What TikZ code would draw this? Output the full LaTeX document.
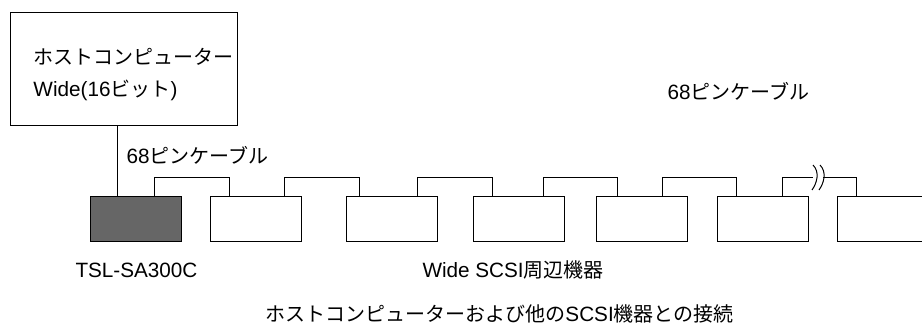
\documentclass[tikz,border=0pt]{standalone}
\usepackage{fontspec}
\setmainfont{Liberation Sans}
\newfontfamily\jp[Scale=0.966]{Noto Sans CJK JP}
\newcommand{\ja}[1]{{\jp #1}}
\usetikzlibrary{positioning, calc}
\tikzset{device/.style={draw=black, minimum width=91pt, minimum height=45pt, inner sep=0pt, anchor=north west},
  txt/.style={anchor=base west, inner sep=0pt, font=\fontsize{20.7pt}{24pt}\selectfont}}

\begin{document}
\begin{tikzpicture}[x=1pt, y=-1pt, line width=1pt]
                 \useasboundingbox (0,0) rectangle (922,327);
                 \node[draw, minimum width=227pt, minimum height=113pt, inner sep=0pt, anchor=north west] (host) at (10,12) {};
                 \node[txt] (hostname) at (33,64) {\ja{ホストコンピューター}};
                 \node[txt] (hostbus) at (33,96) {Wide(16\ja{ビット})};
                 \node[device, fill=black!60] (sa) at (90,196) {};
                 \node[device] (d1) at (210,196) {};
                 \node[device] (d2) at (346,196) {};
                 \node[device] (d3) at (473,196) {};
                 \node[device] (d4) at (596,196) {};
                 \node[device] (d5) at (717,196) {};
                 \node[device] (d6) at (837,196) {};
                 \draw([xshift=27pt]sa.north west)--([xshift=27pt]sa.north west |- host.south);
                 \foreach \a/\b/\o/\i in {sa/d1/64/19, d1/d2/74/13, d2/d3/71/19, d3/d4/70/21, d4/d5/66/19}
                   \draw([xshift=\o pt]\a.north west)--++(0,-19)-|([xshift=\i pt]\b.north west);
                 % cable with break
                 \coordinate (brkl) at (813,177);
                 \coordinate (brkr) at (823,177);
                 \draw([xshift=65pt]d5.north west)--++(0,-19)--(brkl);
                 \draw(brkr)-|([xshift=19pt]d6.north west);
                 \draw(813,165) .. controls (820,172) and (817,183) .. (812,190);
                 \draw(820,165) .. controls (827,172) and (824,183) .. (819,190);
                 \node[txt] (cablehost) at (126,163) {68\ja{ピンケーブル}};
                 \node[txt] (cabledev) at (667,99) {68\ja{ピンケーブル}};
                 \node[txt] (saname) at (75,277) {TSL-SA300C};
                 \node[txt] (devname) at (422,277) {Wide SCSI\ja{周辺機器}};
                 \node[txt] (caption) at (265,321) {\ja{ホストコンピューターおよび他の}SCSI\ja{機器との接続}};
             \end{tikzpicture}
\end{document}
